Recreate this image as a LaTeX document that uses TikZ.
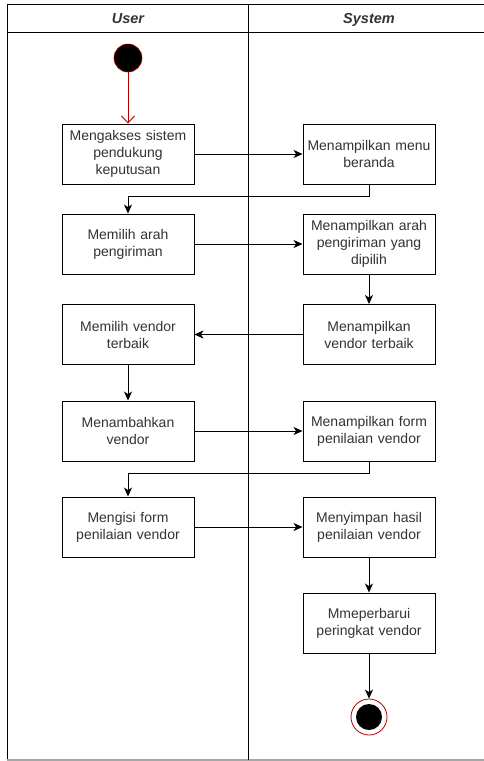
\documentclass[tikz,border=0pt]{standalone}
\usepackage{fontspec}
\setmainfont{Liberation Sans}
\usetikzlibrary{arrows.meta}
\definecolor{txt}{HTML}{333333}
\definecolor{startred}{HTML}{B20000}
\tikzset{
  act/.style={draw=black, line width=0.9pt, fill=white, minimum width=132pt, minimum height=60pt,
    text width=128pt, align=center, inner sep=0pt, text=txt,
    font=\fontsize{14pt}{17pt}\selectfont},
  flow/.style={draw=black, line width=1pt, -{Stealth[length=9pt,width=8pt,inset=2.5pt]}},
  lane/.style={draw=black, line width=0.9pt},
  hdr/.style={font=\fontsize{14.5pt}{17pt}\selectfont\bfseries\itshape, text=txt, anchor=base, inner sep=0pt}
}
\begin{document}
\begin{tikzpicture}[x=1pt,y=-1pt]
\useasboundingbox (0,0) rectangle (484,761);
% swimlanes
\draw[lane] (484,4) -- (7,4) -- (7,760);
\draw[draw=gray!70, line width=1.1pt] (7,760) -- (484,760);
\draw[lane] (7,32) -- (484,32);
\draw[lane] (248,4) -- (248,760);
\node[hdr] (hu) at (128,23) {User};
\node[hdr] (hs) at (369,23) {System};
% start
\node[circle, fill=black, draw=startred, line width=0.6pt, minimum size=28pt, inner sep=0pt] (start) at (128,58) {};
% activities
\node[act] (a1) at (128,154) {Mengakses sistem\\pendukung\\keputusan};
\node[act] (b1) at (369,154) {Menampilkan menu\\beranda};
\node[act] (a2) at (128,244) {Memilih arah\\pengiriman};
\node[act] (b2) at (369,244) {Menampilkan arah\\pengiriman yang\\dipilih};
\node[act] (a3) at (128,334.5) {Memilih vendor\\terbaik};
\node[act] (b3) at (369,334.5) {Menampilkan\\vendor terbaik};
\node[act] (a4) at (128,431) {Menambahkan\\vendor};
\node[act] (b4) at (369,431) {Menampilkan form\\penilaian vendor};
\node[act] (a5) at (128,527) {Mengisi form\\penilaian vendor};
\node[act] (b5) at (369,527) {Menyimpan hasil\\penilaian vendor};
\node[act] (b6) at (369,623) {Mmeperbarui\\peringkat vendor};
% end
\node[circle, fill=white, draw=startred, line width=0.8pt, minimum size=36pt, inner sep=0pt] (endo) at (369,717) {};
\node[circle, fill=black, minimum size=26pt, inner sep=0pt] (endi) at (369,717) {};
% connectors
\draw[draw=startred, line width=0.9pt, -{Straight Barb[length=7pt,width=13pt]}] (start) -- (a1);
\draw[flow] (a1) -- (b1);
\draw[flow] (b1.south) |- (128,196) -- (a2.north);
\draw[flow] (a2) -- (b2);
\draw[flow] (b2) -- (b3);
\draw[flow] (b3) -- (a3);
\draw[flow] (a3) -- (a4);
\draw[flow] (a4) -- (b4);
\draw[flow] (b4.south) |- (128,473) -- (a5.north);
\draw[flow] (a5) -- (b5);
\draw[flow] (b5) -- (b6);
\draw[flow] (b6) -- (endo);
\end{tikzpicture}
\end{document}
